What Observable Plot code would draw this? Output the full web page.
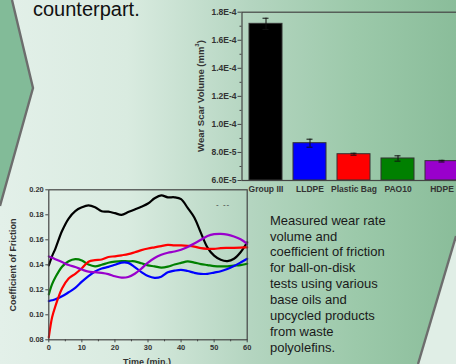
<!DOCTYPE html>
<html>
<head>
<meta charset="utf-8">
<script src="https://cdn.jsdelivr.net/npm/d3@7"></script>
<script src="https://cdn.jsdelivr.net/npm/@observablehq/plot@0.6"></script>
<style>
  html, body { margin: 0; padding: 0; }
  #slide {
    position: relative; width: 456px; height: 364px; overflow: hidden;
    background: linear-gradient(to right, #e3f0e9 0%, #d9ebe0 28%, #b4d5c0 55%, #9cc9aa 78%, #8abd9a 100%);
    font-family: "Liberation Sans", Arial, sans-serif;
  }
  .abs { position: absolute; }
  .rot { transform: translate(-50%, -50%) rotate(-90deg); white-space: nowrap; }
  .ctr { transform: translate(-50%, -50%); white-space: nowrap; }
  svg { overflow: visible; }
</style>
</head>
<body>
<div id="slide">
  <svg class="abs" style="left:0;top:0" width="456" height="364">
    <polygon points="0,0 12,0 33,88 0,206" fill="#82bb98"/>
    <polyline points="12,0 33,88 0,206" fill="none" stroke="#6d6d6d" stroke-width="2.4"/>
    <polygon points="456,236 418,364 456,364" fill="#e0eee6"/>
    <line x1="456" y1="236" x2="418" y2="364" stroke="#6d6d6d" stroke-width="2.4"/>
  </svg>
  <div class="abs" style="left:33px;top:-1px;font-size:20px;line-height:20px;color:#111;">counterpart.</div>
  <div id="bar" class="abs" style="left:171px;top:0px;width:299px;height:200px"></div>
  <div id="cof" class="abs" style="left:0px;top:180px;width:255px;height:184px"></div>
  <div class="abs rot" style="left:200px;top:96px;font-size:9.5px;font-weight:bold;color:#333;">Wear Scar Volume (mm<sup style="font-size:6px">3</sup>)</div>
  <div class="abs rot" style="left:13px;top:265px;font-size:9px;font-weight:bold;color:#333;">Coefficient of Friction</div>
  <div class="abs ctr" style="left:147px;top:362px;font-size:9px;font-weight:bold;color:#333;">Time (min.)</div>
  <div class="abs" style="left:216px;top:200px;font-size:8px;color:#333;letter-spacing:1px;">- --</div>
  <div class="abs" style="left:270px;top:212.6px;font-size:13px;line-height:15.9px;color:#1a1a1a;">
    Measured wear rate<br>volume and<br>coefficient of friction<br>for ball-on-disk<br>tests using various<br>base oils and<br>upcycled products<br>from waste<br>polyolefins.
  </div>
</div>
<script>
// ---- Bar chart data ----
const categories = ["Group III", "LLDPE", "Plastic Bag", "PAO10", "HDPE"];
const seriesColors = ["#000000", "#0000ff", "#ff0000", "#008000", "#9900cc"];
const wearVolume = [1.717e-4, 8.66e-5, 7.875e-5, 7.57e-5, 7.38e-5];
const wearError = [4.0e-6, 2.85e-6, 0.7e-6, 1.9e-6, 0.6e-6];
const wearTicks = [6e-5, 8e-5, 1.0e-4, 1.2e-4, 1.4e-4, 1.6e-4, 1.8e-4];
const wearMinorTicks = [7e-5, 9e-5, 1.1e-4, 1.3e-4, 1.5e-4, 1.7e-4];

// ---- COF data (time in minutes) ----
const time = [0, 1, 2, 4, 6, 8, 10, 12, 14, 16, 18, 20, 22, 24, 26, 28, 30, 32, 34, 36, 38, 40, 42, 44, 46, 48, 50, 52, 54, 56, 58, 60];
const cofGroupIII = [0.1395, 0.147, 0.153, 0.167, 0.177, 0.183, 0.186, 0.1875, 0.186, 0.1828, 0.1825, 0.1813, 0.180, 0.1822, 0.1843, 0.1865, 0.189, 0.1932, 0.1955, 0.194, 0.194, 0.1925, 0.1855, 0.1778, 0.1655, 0.1538, 0.1473, 0.144, 0.143, 0.1448, 0.150, 0.158];
const cofLLDPE = [0.111, 0.1116, 0.1124, 0.1148, 0.118, 0.1215, 0.1265, 0.131, 0.1347, 0.137, 0.1383, 0.140, 0.1417, 0.1415, 0.1382, 0.1342, 0.131, 0.1296, 0.1305, 0.134, 0.1353, 0.136, 0.135, 0.1336, 0.1327, 0.1328, 0.1338, 0.1348, 0.1366, 0.139, 0.1418, 0.1448];
const cofPlasticBag = [0.082, 0.098, 0.107, 0.121, 0.129, 0.1328, 0.1372, 0.1425, 0.1437, 0.1442, 0.1462, 0.1468, 0.1476, 0.1485, 0.150, 0.1517, 0.153, 0.154, 0.155, 0.156, 0.1555, 0.1555, 0.1552, 0.1546, 0.1533, 0.1528, 0.1528, 0.1533, 0.1535, 0.1536, 0.1538, 0.154];
const cofPAO10 = [0.1163, 0.1245, 0.130, 0.1385, 0.1428, 0.1445, 0.1435, 0.1402, 0.1388, 0.140, 0.1416, 0.1425, 0.143, 0.1428, 0.1428, 0.1412, 0.1395, 0.1388, 0.1378, 0.1385, 0.1402, 0.1415, 0.1427, 0.1418, 0.1406, 0.1398, 0.139, 0.1387, 0.1388, 0.1393, 0.1398, 0.1408];
const cofHDPE = [0.1467, 0.1457, 0.1445, 0.1422, 0.1398, 0.1382, 0.1362, 0.1345, 0.1341, 0.1335, 0.1325, 0.1308, 0.1297, 0.1302, 0.1328, 0.137, 0.1418, 0.1455, 0.148, 0.1496, 0.1506, 0.152, 0.1543, 0.157, 0.160, 0.163, 0.1645, 0.1648, 0.1642, 0.1627, 0.1605, 0.1568];
const cofTicks = [0.08, 0.10, 0.12, 0.14, 0.16, 0.18, 0.20];
const timeTicks = [0, 10, 20, 30, 40, 50, 60];
const timeMinorTicks = [5, 15, 25, 35, 45, 55];

const font = "Liberation Sans, Arial, sans-serif";
const axisColor = "#444";
const svgStyle = {background: "transparent", fontFamily: font, color: "#333", overflow: "visible", maxWidth: "none", height: "auto"};

// bar chart
const barRows = categories.map((c, i) => ({cat: c, v: wearVolume[i], e: wearError[i]}));
const yMin = wearTicks[0], yMax = wearTicks[wearTicks.length - 1];
const fmtE = d => d.toExponential(1).replace("e", "E");

const bar = Plot.plot({
  width: 299, height: 200,
  marginLeft: 70.5, marginRight: 4.5, marginTop: 11.7, marginBottom: 20,
  style: svgStyle,
  x: {domain: categories, paddingInner: 0.246, paddingOuter: 0.13, axis: null},
  y: {domain: [yMin, yMax], axis: null},
  color: {domain: categories, range: seriesColors},
  marks: [
    Plot.barY(barRows, {x: "cat", y1: () => yMin, y2: "v", fill: "cat", stroke: "#333", strokeWidth: 1}),
    Plot.ruleX(barRows, {x: "cat", y1: d => d.v - d.e, y2: d => d.v + d.e, stroke: "#111", strokeWidth: 1}),
    Plot.tickY(barRows, {x: "cat", y: d => d.v + d.e, insetLeft: 13.5, insetRight: 13.5, stroke: "#111", strokeWidth: 1}),
    Plot.tickY(barRows, {x: "cat", y: d => d.v - d.e, insetLeft: 13.5, insetRight: 13.5, stroke: "#111", strokeWidth: 1}),
    Plot.frame({stroke: axisColor, strokeWidth: 1.2}),
    Plot.axisY({ticks: wearTicks, tickFormat: fmtE, label: null, tickSize: 4, tickPadding: 1.5, fontSize: 8.5, fontWeight: "bold", stroke: axisColor, fill: "#333"}),
    Plot.axisY({ticks: wearMinorTicks, tickFormat: () => "", label: null, tickSize: 2, stroke: axisColor}),
    Plot.axisX({tickSize: 0, tickPadding: 5, label: null, fontSize: 8.5, fontWeight: "bold", fill: "#333"})
  ]
});
document.getElementById("bar").appendChild(bar);

// COF chart
const cofSeries = [cofGroupIII, cofLLDPE, cofPlasticBag, cofPAO10, cofHDPE];
const drawOrder = [0, 3, 1, 2, 4];
const cofRows = drawOrder.flatMap(i => time.map((t, j) => ({series: categories[i], t, cof: cofSeries[i][j]})));

const cof = Plot.plot({
  width: 255, height: 184,
  marginLeft: 48.3, marginRight: 8.3, marginTop: 9.3, marginBottom: 24.7,
  style: svgStyle,
  x: {domain: [0, 60], axis: null},
  y: {domain: [0.08, 0.20], axis: null},
  color: {domain: categories, range: seriesColors},
  marks: [
    Plot.line(cofRows, {x: "t", y: "cof", z: "series", stroke: "series", strokeWidth: 2.2, curve: "catmull-rom"}),
    Plot.frame({stroke: axisColor, strokeWidth: 1.2}),
    Plot.axisY({ticks: cofTicks, tickFormat: d => d.toFixed(2), label: null, tickSize: 3, tickPadding: 2, fontSize: 7.5, fontWeight: "bold", stroke: axisColor, fill: "#333"}),
    Plot.axisX({ticks: timeTicks, tickFormat: d => String(d), label: null, tickSize: 3, tickPadding: 1.5, fontSize: 7.5, fontWeight: "bold", stroke: axisColor, fill: "#333"}),
    Plot.axisX({ticks: timeMinorTicks, tickFormat: () => "", label: null, tickSize: 2, stroke: axisColor})
  ]
});
document.getElementById("cof").appendChild(cof);
</script>
</body>
</html>
